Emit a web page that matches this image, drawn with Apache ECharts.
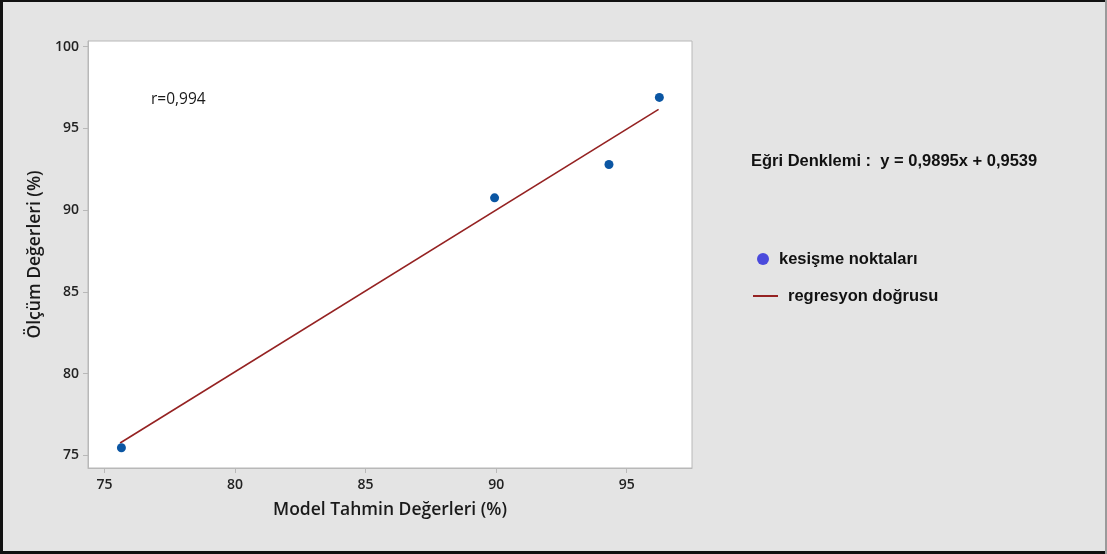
<!DOCTYPE html>
<html>
<head>
<meta charset="utf-8">
<script src="https://cdn.jsdelivr.net/npm/echarts@6/dist/echarts.min.js"></script>
<style>
  html, body { margin: 0; padding: 0; background: #e4e4e4; }
  #chart { width: 1107px; height: 554px; }
</style>
</head>
<body>
<div id="chart"></div>
<script>
// Model predictions vs. measured values (%)
const modelValues = [75.65, 89.94, 94.32, 96.25];
const measuredValues = [75.47, 90.75, 92.79, 96.89];

// Regression line y = slope * x + intercept
const slope = 0.9895;
const intercept = 0.9539;
const lineStartX = 75.6;
const lineEndX = 96.22;

const xTicks = [75, 80, 85, 90, 95];
const yTicks = [75, 80, 85, 90, 95, 100];

const rLabel = 'r=0,994';
const equationLabel = 'Eğri Denklemi :  y = 0,9895x + 0,9539';
const pointsName = 'kesişme noktaları';
const lineName = 'regresyon doğrusu';

const scatterData = modelValues.map((x, i) => [x, measuredValues[i]]);
const lineData = [lineStartX, lineEndX].map(x => [x, slope * x + intercept]);

const chart = echarts.init(document.getElementById('chart'));

const axisFont = {
  color: '#222',
  fontFamily: 'Open Sans',
  fontSize: 14,
  fontWeight: 600
};

chart.setOption({
  backgroundColor: '#e4e4e4',
  animation: false,
  grid: {
    left: 88, top: 41, width: 604, height: 427,
    show: true, backgroundColor: '#ffffff', borderColor: '#b8b8b8', borderWidth: 1
  },
  xAxis: {
    type: 'value',
    min: 74.37, max: 97.5,
    name: 'Model Tahmin Değerleri (%)',
    nameLocation: 'middle',
    nameGap: 33,
    nameTextStyle: { color: '#1a1a1a', fontFamily: 'Open Sans', fontSize: 17.5, fontWeight: 600 },
    splitLine: { show: false },
    axisLine: { lineStyle: { color: '#b8b8b8' } },
    axisTick: { customValues: xTicks, length: 5, lineStyle: { color: '#b8b8b8' } },
    axisLabel: Object.assign({ customValues: xTicks, margin: 10 }, axisFont)
  },
  yAxis: {
    type: 'value',
    min: 74.235, max: 100.34,
    name: 'Ölçüm Değerleri (%)',
    nameLocation: 'middle',
    nameGap: 43,
    nameTextStyle: { color: '#1a1a1a', fontFamily: 'Open Sans', fontSize: 17.5, fontWeight: 600 },
    splitLine: { show: false },
    axisLine: { show: true, lineStyle: { color: '#b8b8b8' } },
    axisTick: { show: true, customValues: yTicks, length: 5, lineStyle: { color: '#b8b8b8' } },
    axisLabel: Object.assign({ customValues: yTicks, margin: 9 }, axisFont)
  },
  series: [
    {
      name: lineName,
      type: 'line',
      data: lineData,
      showSymbol: false,
      lineStyle: { color: '#952222', width: 1.6 },
      z: 2
    },
    {
      name: pointsName,
      type: 'scatter',
      data: scatterData,
      symbolSize: 9,
      itemStyle: { color: '#0b56a3', opacity: 1 },
      z: 3
    }
  ],
  graphic: [
    // correlation coefficient inside the plot
    {
      type: 'text', left: 151, top: 92,
      style: { text: rLabel, fill: '#1a1a1a', font: '15.5px "Open Sans"' }
    },
    // fitted equation
    {
      type: 'text', left: 751, top: 153,
      style: { text: equationLabel, fill: '#111', font: 'bold 16.5px "Liberation Sans"' }
    },
    // legend: points
    {
      type: 'circle', shape: { cx: 763, cy: 259, r: 6 },
      style: { fill: '#4a4adc' }
    },
    {
      type: 'text', left: 779, top: 251,
      style: { text: pointsName, fill: '#111', font: 'bold 16.5px "Liberation Sans"' }
    },
    // legend: regression line
    {
      type: 'line', shape: { x1: 753, y1: 296, x2: 778, y2: 296 },
      style: { stroke: '#952222', lineWidth: 2 }
    },
    {
      type: 'text', left: 788, top: 288,
      style: { text: lineName, fill: '#111', font: 'bold 16.5px "Liberation Sans"' }
    },
    // outer frame
    { type: 'rect', shape: { x: 0, y: 0, width: 1107, height: 2 }, style: { fill: '#111' } },
    { type: 'rect', shape: { x: 0, y: 0, width: 3, height: 554 }, style: { fill: '#111' } },
    { type: 'rect', shape: { x: 0, y: 551, width: 1107, height: 3 }, style: { fill: '#111' } },
    { type: 'rect', shape: { x: 1105, y: 0, width: 2, height: 554 }, style: { fill: '#9a9a9a' } }
  ]
});
</script>
</body>
</html>
